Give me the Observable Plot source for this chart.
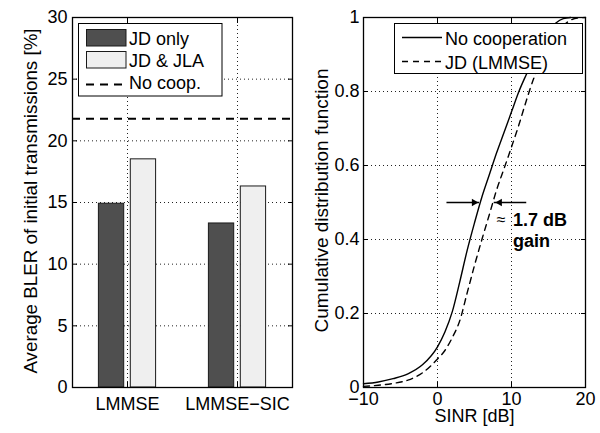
<!DOCTYPE html>
<html><head><meta charset="utf-8">
<script src="https://cdn.jsdelivr.net/npm/d3@7"></script>
<script src="https://cdn.jsdelivr.net/npm/@observablehq/plot@0.6"></script>
<style>
html,body{margin:0;padding:0;background:#fff;}
#wrap{position:relative;width:600px;height:433px;overflow:hidden;font-family:"Liberation Sans",Arial,sans-serif;}
#left,#right{position:absolute;top:0;}
#left{left:0}
#right{left:300px}
#legend{position:absolute;left:0;top:0;pointer-events:none;}
</style></head><body>
<div id="wrap"><div id="left"></div><div id="right"></div><svg id="legend" width="600" height="433"></svg></div>
<script>
// ---------- data: left panel ----------
const categories = ["LMMSE", "LMMSE\u2212SIC"];
const barSeries = ["JD only", "JD & JLA"];
const jdOnly = [14.9, 13.3];
const jdJla = [18.5, 16.3];
const noCoopBler = 21.8;
const noCoopLabel = "No coop.";
const leftYTicks = [0, 5, 10, 15, 20, 25, 30];
const leftYLabel = "Average BLER of initial transmissions [%]";

// ---------- data: right panel ----------
const lineSeries = ["No cooperation", "JD (LMMSE)"];
const sinrNoCoop = [-10, -8, -6, -4, -2, 0, 1, 2, 3, 4, 5, 6, 7, 8, 9, 10, 11, 12, 13, 14, 15, 16, 17, 18];
const cdfNoCoop  = [0.01, 0.015, 0.024, 0.037, 0.062, 0.11, 0.15, 0.205, 0.285, 0.37, 0.445, 0.515, 0.575, 0.635, 0.69, 0.745, 0.8, 0.846, 0.89, 0.93, 0.962, 0.985, 0.997, 1.0];
const sinrJD = [-10, -8, -6, -4, -2, 0, 1, 2, 3, 4, 5, 6, 7, 8, 9, 10, 11, 12, 13, 14, 15, 16, 17, 18, 19, 20];
const cdfJD  = [0.003, 0.006, 0.011, 0.02, 0.04, 0.077, 0.1, 0.135, 0.18, 0.255, 0.33, 0.4, 0.467, 0.535, 0.592, 0.65, 0.71, 0.775, 0.835, 0.88, 0.92, 0.953, 0.978, 0.993, 0.999, 1.0];
const rightXTicks = [-10, 0, 10, 20];
const rightYTicks = [0, 0.2, 0.4, 0.6, 0.8, 1];
const rightYTickLabels = ["0", "0.2", "0.4", "0.6", "0.8", "1"];
const rightXLabel = "SINR [dB]";
const rightYLabel = "Cumulative distribution function";
const gainLevel = 0.5;
const gainLeftTip = 5.68, gainRightTip = 7.66, gainArrowLen = 4.4;
const gainNotes = [
  {x: 8.6, y: 0.453, t: "\u2248", bold: false},
  {x: 10.19, y: 0.4355, t: "1.7 dB", bold: true},
  {x: 10.19, y: 0.379, t: "gain", bold: true}
];

// ---------- build tables ----------
const bars = [];
categories.forEach((c, i) => {
  bars.push({cat: c, pos: i + 1, s: 0, value: jdOnly[i]});
  bars.push({cat: c, pos: i + 1, s: 1, value: jdJla[i]});
});
const barFill = ["#4f4f4f", "#efefef"];
const barOff = [[-0.26, -0.03], [0.03, 0.26]];
const noCoopData = sinrNoCoop.map((x, i) => ({x, y: cdfNoCoop[i]}));
const jdData = sinrJD.map((x, i) => ({x, y: cdfJD[i]}));

const FONT = "Liberation Sans, Arial, Helvetica, sans-serif";
const gridStyle = {stroke: "#222", strokeOpacity: 1, strokeDasharray: "1,3", strokeWidth: 1};
const blank = () => "";

const left = Plot.plot({
  width: 300, height: 433,
  marginLeft: 72, marginRight: 8, marginTop: 17, marginBottom: 46,
  style: {fontFamily: FONT, fontSize: "18px", background: "transparent", color: "black", overflow: "visible"},
  x: {domain: [0.5, 2.5]},
  y: {domain: [0, 30]},
  marks: [
    Plot.gridY(leftYTicks.slice(1, -1), gridStyle),
    Plot.gridX([1, 2], gridStyle),
    Plot.rectY(bars, {
      x1: d => d.pos + barOff[d.s][0], x2: d => d.pos + barOff[d.s][1],
      y1: 0, y2: "value",
      fill: d => barFill[d.s], stroke: "#1a1a1a", strokeWidth: 1
    }),
    Plot.ruleY([noCoopBler], {stroke: "black", strokeWidth: 2, strokeDasharray: "8,6"}),
    Plot.axisY(leftYTicks, {tickSize: 0, tickPadding: 5, label: null}),
    Plot.axisY(leftYTicks, {tickSize: -5, tickFormat: blank, label: null}),
    Plot.axisY(leftYTicks, {anchor: "right", tickSize: -5, tickFormat: blank, label: null}),
    Plot.axisX([1, 2], {tickSize: 0, tickPadding: 10, tickFormat: i => categories[i - 1], label: null}),
    Plot.axisX([1, 2], {tickSize: -5, tickFormat: blank, label: null}),
    Plot.axisX([1, 2], {anchor: "top", tickSize: -5, tickFormat: blank, label: null}),
    Plot.frame({stroke: "black", strokeWidth: 1.3}),
    Plot.text([leftYLabel], {frameAnchor: "left", text: d => d, rotate: -90, dx: -41.6, dy: -1.5, fontSize: 18.8, textAnchor: "middle", lineAnchor: "middle"})
  ]
});
document.getElementById("left").appendChild(left);

const right = Plot.plot({
  width: 300, height: 433,
  marginLeft: 63, marginRight: 15, marginTop: 17, marginBottom: 46,
  style: {fontFamily: FONT, fontSize: "18px", background: "transparent", color: "black", overflow: "visible"},
  x: {domain: [-10, 20]},
  y: {domain: [0, 1]},
  marks: [
    Plot.gridY(rightYTicks.slice(1, -1), gridStyle),
    Plot.gridX(rightXTicks.slice(1, -1), gridStyle),
    Plot.line(noCoopData, {x: "x", y: "y", curve: "monotone-x", stroke: "black", strokeWidth: 1.4}),
    Plot.line(jdData, {x: "x", y: "y", curve: "monotone-x", stroke: "black", strokeWidth: 1.4, strokeDasharray: "6,5"}),
    Plot.ruleY([{y: gainLevel, x1: gainLeftTip - gainArrowLen, x2: gainLeftTip}], {y: "y", x1: "x1", x2: "x2", stroke: "black", strokeWidth: 1.3}),
    Plot.ruleY([{y: gainLevel, x1: gainRightTip, x2: gainRightTip + gainArrowLen}], {y: "y", x1: "x1", x2: "x2", stroke: "black", strokeWidth: 1.3}),
    Plot.dot([{x: gainLeftTip, y: gainLevel}], {x: "x", y: "y", symbol: "triangle2", r: 3.6, rotate: 90, dx: -5.5, fill: "black", stroke: "none"}),
    Plot.dot([{x: gainRightTip, y: gainLevel}], {x: "x", y: "y", symbol: "triangle2", r: 3.6, rotate: -90, dx: 5.5, fill: "black", stroke: "none"}),
    Plot.text(gainNotes.filter(d => !d.bold), {x: "x", y: "y", text: "t", textAnchor: "middle", lineAnchor: "middle", fontSize: 16}),
    Plot.text(gainNotes.filter(d => d.bold), {x: "x", y: "y", text: "t", textAnchor: "start", lineAnchor: "bottom", fontWeight: "bold", fontSize: 18}),
    Plot.axisY(rightYTicks, {tickSize: 0, tickPadding: 4, tickFormat: d => rightYTickLabels[rightYTicks.indexOf(d)], label: null}),
    Plot.axisY(rightYTicks, {tickSize: -5, tickFormat: blank, label: null}),
    Plot.axisY(rightYTicks, {anchor: "right", tickSize: -5, tickFormat: blank, label: null}),
    Plot.axisX(rightXTicks, {tickSize: 0, tickPadding: 4.5, label: null}),
    Plot.axisX(rightXTicks, {tickSize: -5, tickFormat: blank, label: null}),
    Plot.axisX(rightXTicks, {anchor: "top", tickSize: -5, tickFormat: blank, label: null}),
    Plot.frame({stroke: "black", strokeWidth: 1.3}),
    Plot.text([rightYLabel], {frameAnchor: "left", text: d => d, rotate: -90, dx: -41.6, dy: -2, fontSize: 19, textAnchor: "middle", lineAnchor: "middle"}),
    Plot.text([rightXLabel], {frameAnchor: "bottom", text: d => d, dy: 29, textAnchor: "middle", lineAnchor: "middle"})
  ]
});
document.getElementById("right").appendChild(right);

// ---------- legends ----------
const lg = d3.select("#legend").style("font-family", FONT).style("font-size", "18px");
// left legend
const L = lg.append("g");
L.append("rect").attr("x", 78.5).attr("y", 23.5).attr("width", 143.5).attr("height", 72.5).attr("fill", "white").attr("stroke", "black");
barSeries.forEach((s, i) => {
  L.append("rect").attr("x", 86.5).attr("y", 29.5 + i * 22).attr("width", 39.5).attr("height", 16.5)
    .attr("fill", barFill[i]).attr("stroke", "#1a1a1a");
  L.append("text").attr("x", 129).attr("y", 45 + i * 22).text(s);
});
L.append("line").attr("x1", 86).attr("x2", 126).attr("y1", 84.5).attr("y2", 84.5)
  .attr("stroke", "black").attr("stroke-width", 2).attr("stroke-dasharray", "8,6");
L.append("text").attr("x", 129).attr("y", 89).text(noCoopLabel);
// right legend
const R = lg.append("g");
R.append("rect").attr("x", 394.5).attr("y", 23.5).attr("width", 188).attr("height", 50).attr("fill", "white").attr("stroke", "black");
lineSeries.forEach((s, i) => {
  R.append("line").attr("x1", 402).attr("x2", 442).attr("y1", 37.5 + i * 24).attr("y2", 37.5 + i * 24)
    .attr("stroke", "black").attr("stroke-width", 1.3).attr("stroke-dasharray", i ? "6,5" : null);
  R.append("text").attr("x", 445).attr("y", 45 + i * 23.5).text(s);
});
</script>
</body></html>
